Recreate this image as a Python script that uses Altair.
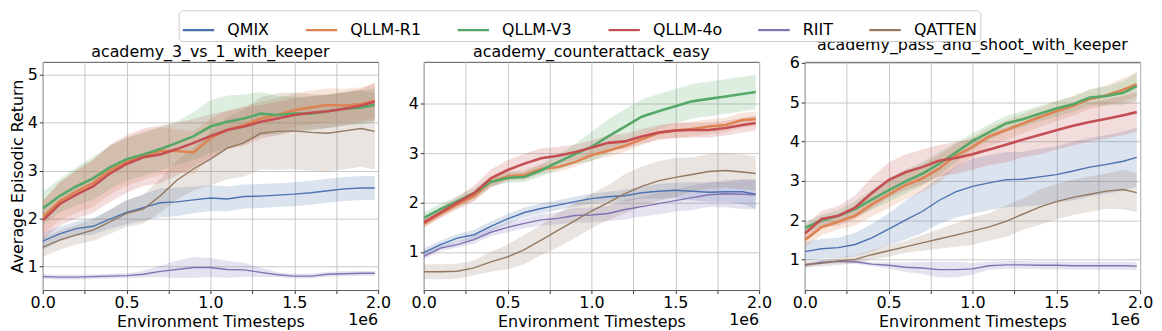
import altair as alt
import pandas as pd

# ---------------- data (x in units of 1e6 environment timesteps) ----------------
steps = [0.0, 0.1, 0.2, 0.3, 0.4, 0.5, 0.6, 0.7, 0.8, 0.9, 1.0,
         1.1, 1.2, 1.3, 1.4, 1.5, 1.6, 1.7, 1.8, 1.9, 1.98]

methods = ["QMIX", "QLLM-R1", "QLLM-V3", "QLLM-4o", "RIIT", "QATTEN"]
colors = ["#4C72B0", "#DD8452", "#55A868", "#C44E52", "#8172B3", "#937860"]
color_of = dict(zip(methods, colors))
widths = {"QMIX": 1.4, "QLLM-R1": 2.6, "QLLM-V3": 2.6, "QLLM-4o": 2.6, "RIIT": 1.4, "QATTEN": 1.4}
draw_order = ["QMIX", "RIIT", "QATTEN", "QLLM-R1", "QLLM-V3", "QLLM-4o"]

titles = ["academy_3_vs_1_with_keeper", "academy_counterattack_easy",
          "academy_pass_and_shoot_with_keeper"]

# panel 1: academy_3_vs_1_with_keeper
p1_qmix = [1.53, 1.68, 1.79, 1.84, 1.99, 2.13, 2.23, 2.33, 2.35, 2.39, 2.43, 2.41, 2.46, 2.47, 2.49, 2.51, 2.54, 2.58, 2.62, 2.64, 2.64]
p1_r1 = [2.03, 2.36, 2.57, 2.74, 3.01, 3.18, 3.31, 3.41, 3.41, 3.38, 3.68, 3.85, 3.95, 4.09, 4.16, 4.26, 4.32, 4.37, 4.36, 4.39, 4.46]
p1_v3 = [2.21, 2.47, 2.67, 2.84, 3.07, 3.24, 3.34, 3.45, 3.58, 3.72, 3.92, 4.02, 4.09, 4.19, 4.16, 4.19, 4.19, 4.24, 4.29, 4.32, 4.37]
p1_4o = [1.96, 2.30, 2.50, 2.67, 2.94, 3.14, 3.28, 3.34, 3.45, 3.58, 3.72, 3.85, 3.92, 4.02, 4.09, 4.16, 4.21, 4.24, 4.29, 4.36, 4.44]
p1_riit = [0.79, 0.78, 0.78, 0.79, 0.80, 0.81, 0.84, 0.90, 0.94, 0.98, 0.98, 0.94, 0.93, 0.88, 0.83, 0.80, 0.80, 0.84, 0.85, 0.86, 0.86]
p1_qatten = [1.40, 1.55, 1.66, 1.76, 1.93, 2.11, 2.20, 2.47, 2.80, 3.04, 3.24, 3.47, 3.58, 3.78, 3.82, 3.83, 3.80, 3.78, 3.83, 3.88, 3.82]

p1_qmix_sd = [0.18, 0.15, 0.15, 0.17, 0.20, 0.25, 0.28, 0.30, 0.30, 0.28, 0.27, 0.26, 0.25, 0.25, 0.25, 0.25, 0.25, 0.25, 0.25, 0.25, 0.25]
p1_r1_sd = [0.35, 0.40, 0.45, 0.50, 0.50, 0.50, 0.50, 0.50, 0.45, 0.45, 0.40, 0.40, 0.40, 0.35, 0.35, 0.35, 0.35, 0.35, 0.35, 0.35, 0.35]
p1_v3_sd = [0.35, 0.35, 0.40, 0.45, 0.45, 0.45, 0.45, 0.45, 0.45, 0.50, 0.55, 0.55, 0.50, 0.45, 0.40, 0.35, 0.35, 0.35, 0.35, 0.35, 0.35]
p1_4o_sd = [0.40, 0.45, 0.50, 0.55, 0.60, 0.60, 0.60, 0.60, 0.55, 0.50, 0.45, 0.40, 0.40, 0.35, 0.35, 0.35, 0.35, 0.35, 0.35, 0.35, 0.40]
p1_riit_sd = [0.05, 0.05, 0.05, 0.05, 0.05, 0.05, 0.07, 0.12, 0.18, 0.22, 0.20, 0.18, 0.15, 0.10, 0.05, 0.05, 0.05, 0.05, 0.05, 0.05, 0.05]
p1_qatten_sd = [0.20, 0.20, 0.20, 0.22, 0.25, 0.28, 0.30, 0.35, 0.40, 0.45, 0.55, 0.65, 0.70, 0.75, 0.80, 0.80, 0.80, 0.80, 0.80, 0.80, 0.80]

# panel 2: academy_counterattack_easy
p2_qmix = [0.99, 1.15, 1.28, 1.35, 1.52, 1.67, 1.80, 1.88, 1.95, 2.02, 2.08, 2.12, 2.14, 2.20, 2.23, 2.25, 2.23, 2.21, 2.22, 2.22, 2.17]
p2_r1 = [1.57, 1.77, 1.96, 2.13, 2.42, 2.53, 2.56, 2.68, 2.72, 2.82, 2.96, 3.05, 3.15, 3.28, 3.41, 3.46, 3.49, 3.54, 3.57, 3.67, 3.69]
p2_v3 = [1.69, 1.87, 2.03, 2.19, 2.42, 2.50, 2.52, 2.65, 2.82, 2.98, 3.13, 3.34, 3.54, 3.74, 3.85, 3.95, 4.05, 4.10, 4.15, 4.20, 4.24]
p2_4o = [1.60, 1.80, 2.00, 2.19, 2.49, 2.66, 2.79, 2.90, 2.95, 3.02, 3.11, 3.21, 3.24, 3.34, 3.42, 3.46, 3.47, 3.47, 3.51, 3.57, 3.61]
p2_riit = [0.91, 1.08, 1.15, 1.25, 1.40, 1.50, 1.58, 1.65, 1.68, 1.74, 1.75, 1.78, 1.86, 1.92, 1.98, 2.04, 2.10, 2.16, 2.18, 2.17, 2.16]
p2_qatten = [0.60, 0.60, 0.61, 0.68, 0.80, 0.90, 1.05, 1.24, 1.44, 1.63, 1.83, 2.00, 2.18, 2.33, 2.44, 2.51, 2.57, 2.63, 2.65, 2.62, 2.59]

p2_qmix_sd = [0.08, 0.08, 0.08, 0.10, 0.10, 0.10, 0.10, 0.10, 0.10, 0.10, 0.10, 0.10, 0.12, 0.12, 0.15, 0.15, 0.18, 0.20, 0.20, 0.25, 0.30]
p2_r1_sd = [0.08, 0.08, 0.10, 0.10, 0.10, 0.10, 0.10, 0.10, 0.10, 0.10, 0.10, 0.12, 0.12, 0.12, 0.12, 0.15, 0.15, 0.15, 0.15, 0.15, 0.15]
p2_v3_sd = [0.12, 0.10, 0.10, 0.10, 0.10, 0.10, 0.10, 0.12, 0.15, 0.20, 0.30, 0.35, 0.35, 0.35, 0.35, 0.35, 0.35, 0.35, 0.35, 0.35, 0.35]
p2_4o_sd = [0.10, 0.10, 0.12, 0.15, 0.18, 0.20, 0.20, 0.20, 0.18, 0.15, 0.15, 0.15, 0.15, 0.15, 0.15, 0.15, 0.15, 0.15, 0.15, 0.15, 0.15]
p2_riit_sd = [0.06, 0.06, 0.06, 0.08, 0.08, 0.10, 0.10, 0.12, 0.12, 0.15, 0.15, 0.15, 0.20, 0.20, 0.22, 0.22, 0.25, 0.25, 0.28, 0.30, 0.30]
p2_qatten_sd = [0.15, 0.15, 0.15, 0.15, 0.20, 0.25, 0.30, 0.30, 0.35, 0.35, 0.35, 0.35, 0.40, 0.40, 0.40, 0.40, 0.35, 0.35, 0.35, 0.35, 0.35]

# panel 3: academy_pass_and_shoot_with_keeper
p3_qmix = [1.20, 1.27, 1.30, 1.38, 1.55, 1.77, 2.00, 2.22, 2.50, 2.72, 2.86, 2.95, 3.03, 3.04, 3.10, 3.16, 3.25, 3.35, 3.42, 3.50, 3.60]
p3_r1 = [1.49, 1.82, 1.96, 2.11, 2.40, 2.65, 2.89, 3.06, 3.31, 3.64, 3.86, 4.13, 4.29, 4.46, 4.62, 4.77, 4.91, 5.08, 5.18, 5.32, 5.46]
p3_v3 = [1.80, 1.99, 2.11, 2.28, 2.52, 2.76, 2.98, 3.18, 3.43, 3.72, 4.01, 4.24, 4.46, 4.57, 4.71, 4.84, 4.95, 5.12, 5.16, 5.24, 5.41]
p3_4o = [1.66, 2.03, 2.11, 2.32, 2.69, 3.02, 3.22, 3.35, 3.51, 3.58, 3.68, 3.80, 3.92, 4.05, 4.17, 4.29, 4.40, 4.50, 4.58, 4.67, 4.75]
p3_riit = [0.85, 0.93, 0.95, 0.94, 0.88, 0.85, 0.80, 0.78, 0.74, 0.74, 0.76, 0.84, 0.86, 0.86, 0.85, 0.85, 0.84, 0.84, 0.84, 0.84, 0.83]
p3_qatten = [0.87, 0.90, 0.96, 1.00, 1.12, 1.22, 1.32, 1.42, 1.52, 1.62, 1.72, 1.83, 1.97, 2.15, 2.33, 2.47, 2.58, 2.66, 2.74, 2.78, 2.70]

p3_qmix_sd = [0.25, 0.25, 0.25, 0.30, 0.35, 0.40, 0.50, 0.55, 0.60, 0.65, 0.70, 0.70, 0.70, 0.70, 0.72, 0.72, 0.75, 0.75, 0.75, 0.75, 0.75]
p3_r1_sd = [0.20, 0.20, 0.20, 0.25, 0.30, 0.35, 0.35, 0.35, 0.35, 0.30, 0.25, 0.25, 0.25, 0.25, 0.25, 0.25, 0.25, 0.25, 0.25, 0.30, 0.30]
p3_v3_sd = [0.15, 0.15, 0.15, 0.20, 0.25, 0.30, 0.30, 0.30, 0.30, 0.25, 0.20, 0.20, 0.20, 0.20, 0.20, 0.20, 0.20, 0.20, 0.25, 0.30, 0.35]
p3_4o_sd = [0.20, 0.20, 0.25, 0.30, 0.40, 0.45, 0.45, 0.45, 0.40, 0.40, 0.40, 0.40, 0.45, 0.45, 0.50, 0.50, 0.50, 0.50, 0.50, 0.50, 0.50]
p3_riit_sd = [0.05, 0.05, 0.05, 0.05, 0.05, 0.08, 0.12, 0.15, 0.20, 0.20, 0.15, 0.10, 0.10, 0.10, 0.10, 0.10, 0.10, 0.10, 0.10, 0.10, 0.10]
p3_qatten_sd = [0.08, 0.08, 0.10, 0.10, 0.12, 0.15, 0.15, 0.20, 0.25, 0.30, 0.35, 0.35, 0.40, 0.40, 0.45, 0.45, 0.45, 0.45, 0.45, 0.50, 0.50]

x_ticks = [0.0, 0.25, 0.5, 0.75, 1.0, 1.25, 1.5, 1.75, 2.0]
y_domains = [[0.51, 5.27], [0.23, 4.85], [0.22, 6.03]]
y_ticks = [[1, 2, 3, 4, 5], [1, 2, 3, 4], [1, 2, 3, 4, 5, 6]]

panel_means = [
    dict(zip(methods, [p1_qmix, p1_r1, p1_v3, p1_4o, p1_riit, p1_qatten])),
    dict(zip(methods, [p2_qmix, p2_r1, p2_v3, p2_4o, p2_riit, p2_qatten])),
    dict(zip(methods, [p3_qmix, p3_r1, p3_v3, p3_4o, p3_riit, p3_qatten])),
]
panel_sds = [
    dict(zip(methods, [p1_qmix_sd, p1_r1_sd, p1_v3_sd, p1_4o_sd, p1_riit_sd, p1_qatten_sd])),
    dict(zip(methods, [p2_qmix_sd, p2_r1_sd, p2_v3_sd, p2_4o_sd, p2_riit_sd, p2_qatten_sd])),
    dict(zip(methods, [p3_qmix_sd, p3_r1_sd, p3_v3_sd, p3_4o_sd, p3_riit_sd, p3_qatten_sd])),
]

W, H = 338, 230
SPACING = 46
FONT = "DejaVu Sans"

# one shared legend at the top level; position relative to the first panel's plot origin
legend = alt.Legend(
    orient="none", legendX=137, legendY=-52,
    direction="horizontal", columns=6,
    title=None, symbolType="stroke", symbolSize=1000, symbolStrokeWidth=2.2,
    symbolOpacity=1, labelFontSize=16, labelFont=FONT, labelColor="black",
    labelOffset=12, columnPadding=31, padding=3, strokeColor="#cccccc",
    cornerRadius=4, fillColor="white",
)


def make_panel(i):
    rows = []
    for m in methods:
        for x, mu, sd in zip(steps, panel_means[i][m], panel_sds[i][m]):
            rows.append({"x": x, "method": m, "mean": mu, "lo": mu - sd, "hi": mu + sd})
    df = pd.DataFrame(rows)

    xenc = alt.X(
        "x:Q",
        scale=alt.Scale(domain=[0, 2], nice=False, zero=False),
        axis=alt.Axis(
            values=x_ticks, title="Environment Timesteps",
            labelExpr="datum.value % 0.5 == 0 ? format(datum.value, '.1f') : ''",
            labelFlush=False, labelOverlap=False, labelPadding=1, titlePadding=3,
        ),
    )
    ytitle = "Average Episodic Return" if i == 0 else None
    yscale = alt.Scale(domain=y_domains[i], nice=False, zero=False)
    yaxis = alt.Axis(values=y_ticks[i], format="d", labelPadding=2, titlePadding=2)
    cscale = alt.Scale(domain=methods, range=colors)

    layers = []
    # std bands, one fixed-colour layer per method
    for m in methods:
        layers.append(
            alt.Chart(df).transform_filter(alt.datum.method == m)
            .mark_area(opacity=0.2, clip=True, color=color_of[m])
            .encode(
                x=xenc,
                y=alt.Y("lo:Q", scale=yscale, axis=yaxis, title=ytitle),
                y2="hi:Q",
            )
        )
    # mean lines
    for m in draw_order:
        layers.append(
            alt.Chart(df).transform_filter(alt.datum.method == m)
            .mark_line(strokeWidth=widths[m], clip=True)
            .encode(
                x=xenc,
                y=alt.Y("mean:Q", scale=yscale, axis=yaxis, title=ytitle),
                color=alt.Color("method:N", scale=cscale, legend=legend),
            )
        )
    offset_text = alt.Chart(pd.DataFrame({"t": ["1e6"]})).mark_text(
        align="right", baseline="alphabetic", fontSize=16, font=FONT, color="black"
    ).encode(x=alt.value(W), y=alt.value(H + 35), text="t:N")
    layers.append(offset_text)

    return alt.layer(*layers).properties(
        width=W, height=H,
        title=alt.TitleParams(titles[i], fontSize=16, font=FONT, fontWeight="normal",
                              color="black", offset=2, anchor="middle"),
    )


chart = alt.hconcat(
    make_panel(0), make_panel(1), make_panel(2), spacing=SPACING, bounds="flush"
).resolve_scale(
    color="shared"
).resolve_legend(
    color="shared"
).properties(padding={"left": 0, "top": 0, "right": 0, "bottom": 0}).configure_axis(
    labelFont=FONT, titleFont=FONT, labelFontSize=16, titleFontSize=16,
    titleFontWeight="normal", labelColor="black", titleColor="black",
    tickColor="#333333", tickSize=3.5, gridColor="#c8c8c8", gridWidth=1, domain=False,
).configure_view(stroke="#555555", strokeWidth=1)

chart.save("out.html", embed_options={"renderer": "svg", "actions": False})
